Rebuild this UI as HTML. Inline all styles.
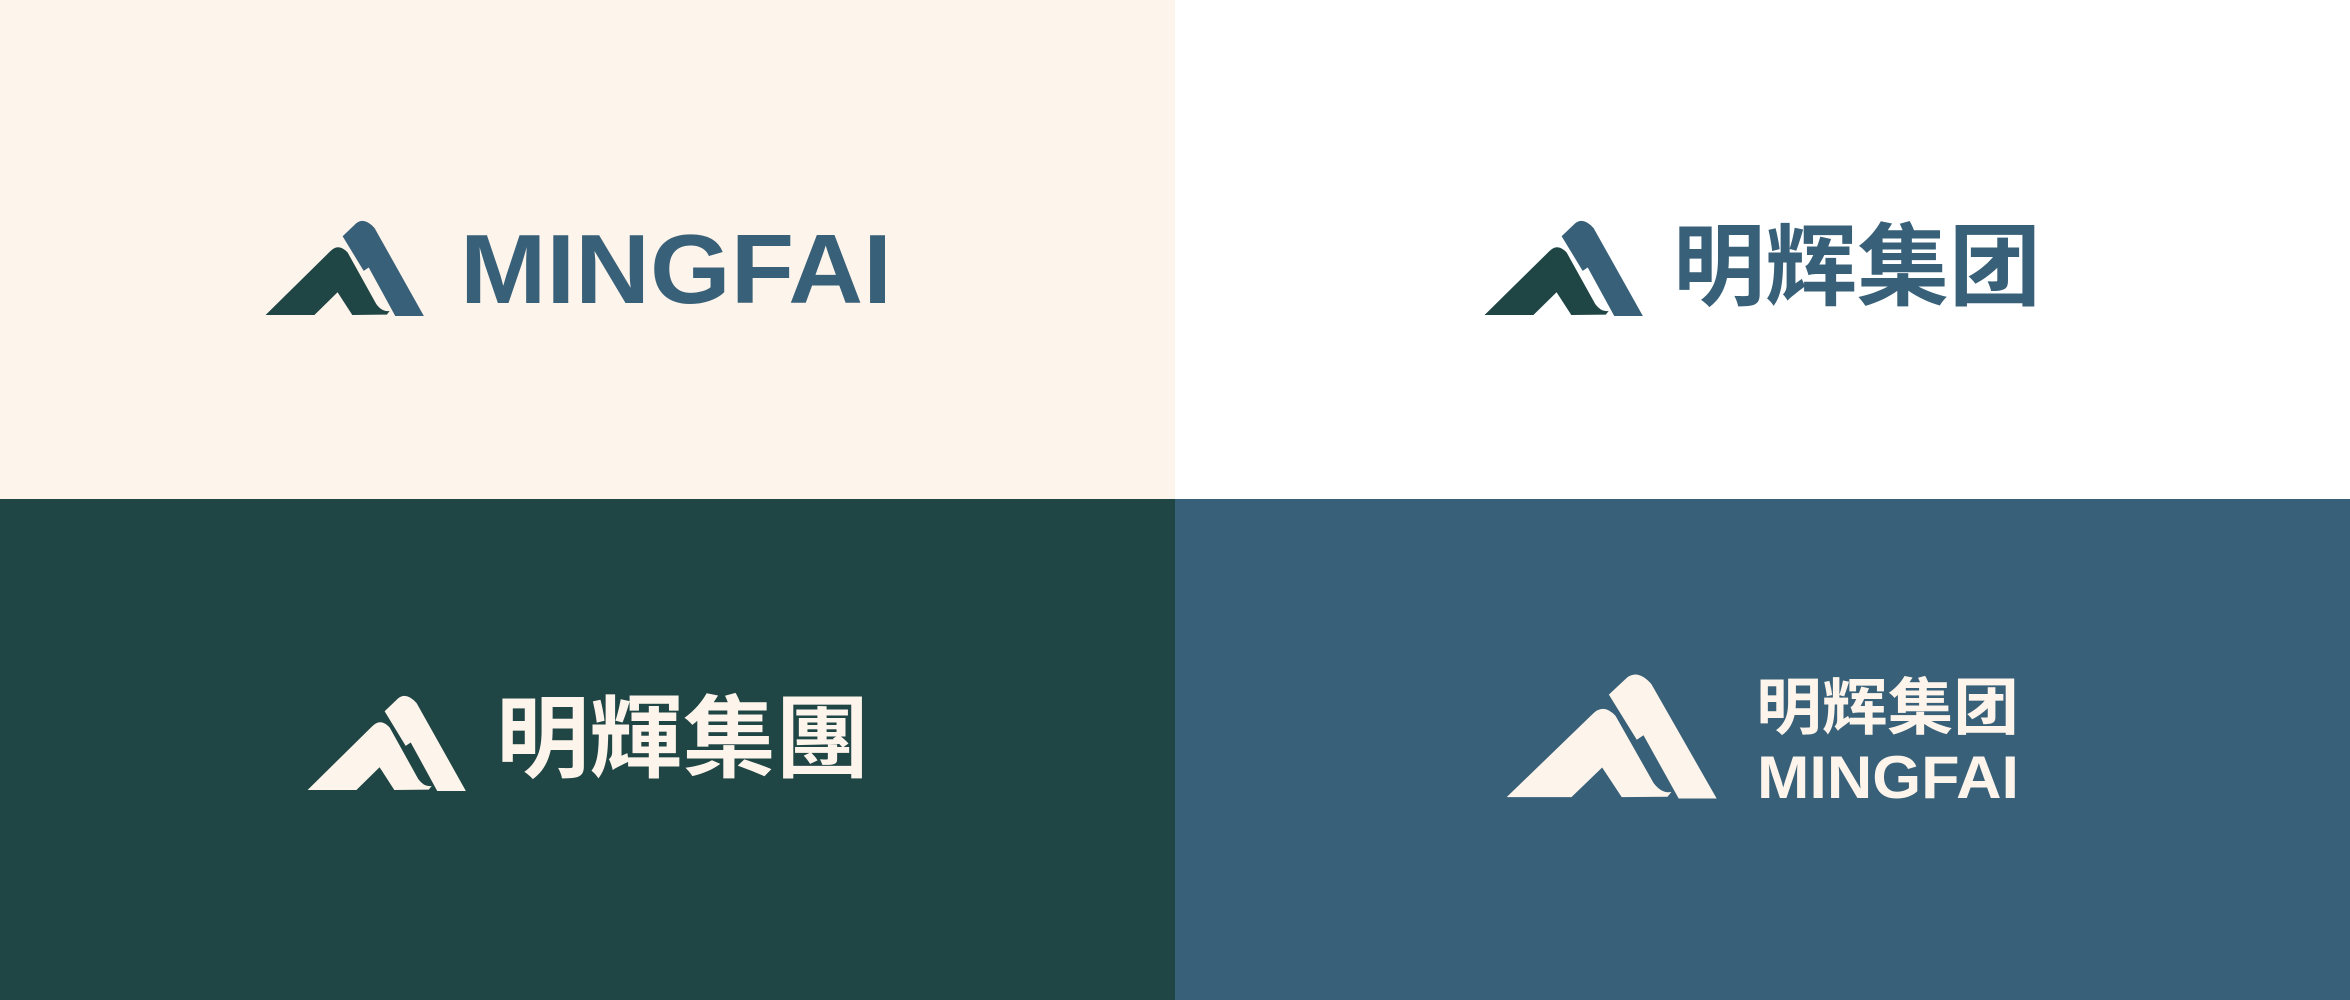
<!DOCTYPE html>
<html><head><meta charset="utf-8"><style>
body{margin:0;width:2350px;height:1000px;overflow:hidden}
svg{display:block}
.cn{font-family:"Liberation Sans","Noto Sans CJK SC",sans-serif;font-weight:bold}
.tc{font-family:"Liberation Sans","Noto Sans CJK TC",sans-serif;font-weight:bold}
.en{font-family:"Liberation Sans",sans-serif;font-weight:bold}
</style></head><body>
<svg width="2350" height="1000" viewBox="0 0 2350 1000">
<defs>
<g id="mark">
<path d="M37,342 L190,155 Q210,128 232,158 L300,310 Q315,335 332,330 L325,341 L243,342 L208,275 L153,342 Z"/>
<path d="M220,110 L252,72 Q272,52 296,86 L413,345 L345,345 L282,202 L270,212 Z"/>
</g>
</defs>
<rect x="0" y="0" width="1175" height="499" fill="#FDF4EB"/>
<rect x="1175" y="0" width="1175" height="499" fill="#FFFFFF"/>
<rect x="0" y="499" width="1175" height="501" fill="#1F4545"/>
<rect x="1175" y="499" width="1175" height="501" fill="#386078"/>

<g transform="translate(250,199) scale(0.421,0.339)">
<path d="M37,342 L190,155 Q210,128 232,158 L300,310 Q315,335 332,330 L325,341 L243,342 L208,275 L153,342 Z" fill="#1F4545"/>
<path d="M220,110 L252,72 Q272,52 296,86 L413,345 L345,345 L282,202 L270,212 Z" fill="#386078"/>
</g>
<text class="en" x="460" y="303" font-size="98" fill="#386078" textLength="432" lengthAdjust="spacingAndGlyphs">MINGFAI</text>

<g transform="translate(1469,199) scale(0.421,0.339)">
<path d="M37,342 L190,155 Q210,128 232,158 L300,310 Q315,335 332,330 L325,341 L243,342 L208,275 L153,342 Z" fill="#1F4545"/>
<path d="M220,110 L252,72 Q272,52 296,86 L413,345 L345,345 L282,202 L270,212 Z" fill="#386078"/>
</g>
<text class="cn" x="1673" y="298" font-size="90" fill="#386078" textLength="368" lengthAdjust="spacingAndGlyphs">明辉集团</text>

<g transform="translate(292,674) scale(0.421,0.339)" fill="#FDF4EB">
<use href="#mark"/>
</g>
<text class="tc" x="496" y="770" font-size="90" fill="#FDF4EB" textLength="373" lengthAdjust="spacingAndGlyphs">明輝集團</text>

<g transform="translate(1486,646) scale(0.5585,0.442)" fill="#FDF4EB">
<use href="#mark"/>
</g>
<text class="cn" x="1756" y="729" font-size="62" fill="#FDF4EB" textLength="263" lengthAdjust="spacingAndGlyphs">明辉集团</text>
<text class="en" x="1757" y="798" font-size="60" fill="#FDF4EB" textLength="262" lengthAdjust="spacingAndGlyphs">MINGFAI</text>
</svg>
</body></html>
